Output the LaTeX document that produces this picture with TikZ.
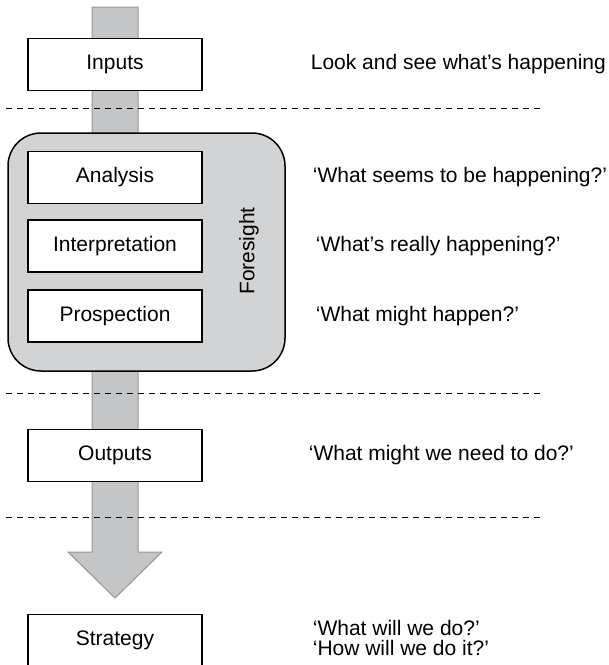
\documentclass[tikz,border=0pt]{standalone}
\usepackage{fontspec}
\setmainfont{Liberation Sans}
\usetikzlibrary{positioning}
\definecolor{bandfill}{RGB}{196,197,199}
\definecolor{bandline}{RGB}{150,150,152}
\definecolor{panelfill}{RGB}{210,211,213}
\tikzset{
  stage/.style={draw=black, line width=1.3pt, fill=white, minimum width=174pt,
    minimum height=52pt, inner sep=0pt, font=\fontsize{21}{24}\selectfont},
  note/.style={anchor=west, inner sep=0pt, align=left, font=\fontsize{21}{20}\selectfont},
  divider/.style={dash pattern=on 6pt off 5pt, line width=1pt},
}

\begin{document}
\begin{tikzpicture}[x=1pt,y=-1pt]
\useasboundingbox (0,0) rectangle (609,665);

% Flow band
\filldraw[fill=bandfill, draw=bandline, line width=1pt]
  (92,7) -- (138,7) -- (138,552) -- (162,552) -- (115,598) -- (68,552) -- (92,552) -- cycle;

% Foresight panel
\node[draw=black, fill=panelfill, line width=1.5pt, rounded corners=33pt,
  minimum width=277pt, minimum height=238pt] (panel) at (146.5,252) {};
\node[rotate=90, font=\fontsize{21}{24}\selectfont] (foresight) at (249,251) {Foresight};

% Stages
\node[stage] (inputs) at (115,64.5) {Inputs};
\node[stage] (analysis) at (115,177.5) {Analysis};
\node[stage] (interp) at (115,246) {Interpretation};
\node[stage] (prosp) at (115,316) {Prospection};
\node[stage] (outputs) at (115,455.5) {Outputs};
\node[stage] (strategy) at (115,640.5) {Strategy};

% Dividers
\draw[divider] (6,108) -- (540,108);
\draw[divider] (6,393) -- (540,393);
\draw[divider] (6,517) -- (540,517);

% Questions
\node[note, right=108pt of inputs] (look) {Look and see what’s happening};
\node[note, right=110pt of analysis] (seems) {‘What seems to be happening?’};
\node[note, right=113pt of interp] (really) {‘What’s really happening?’};
\node[note, right=113pt of prosp] (might) {‘What might happen?’};
\node[note, right=106pt of outputs] (need) {‘What might we need to do?’};
\node[note, right=110pt of strategy, yshift=3pt] (will) {‘What will we do?’\\‘How will we do it?’};
\end{tikzpicture}
\end{document}
